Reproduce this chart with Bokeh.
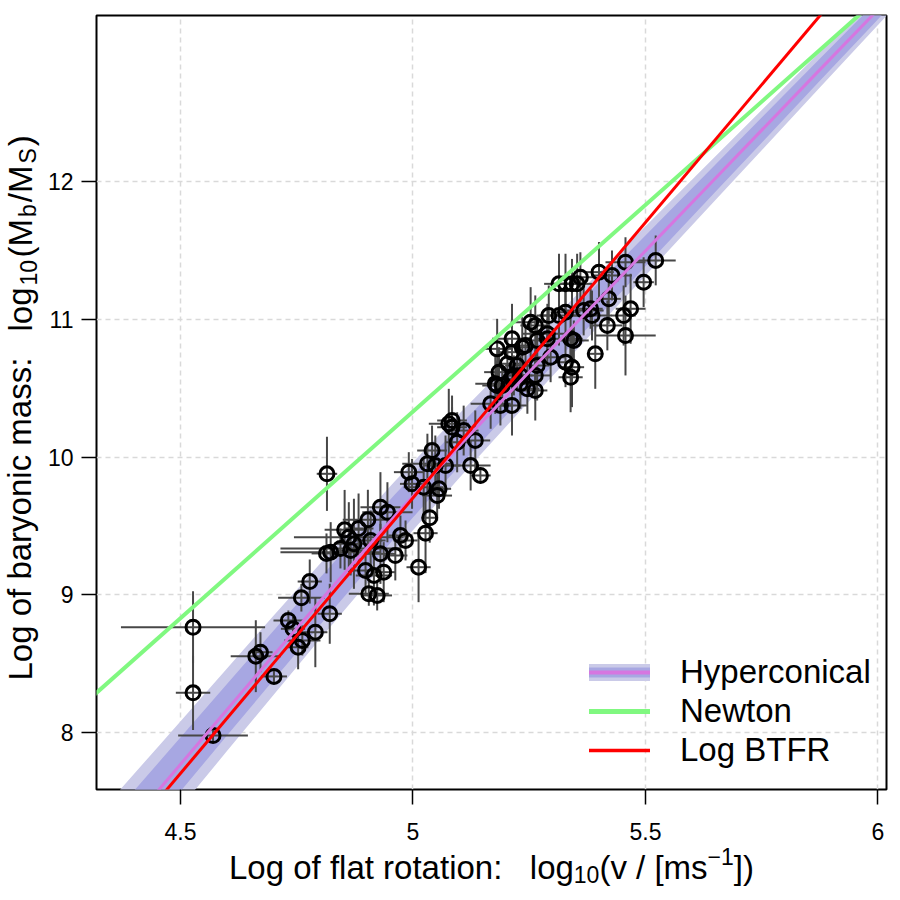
import numpy as np
from bokeh.plotting import figure
from bokeh.models import Range1d, FixedTicker, Legend, LegendItem, ColumnDataSource
from bokeh.core.properties import value
from bokeh.embed import file_html
from bokeh.resources import INLINE

# ---------------- data ----------------
log_v = [4.527, 4.527, 4.570, 4.662, 4.672, 4.701, 4.732, 4.742, 4.753, 4.762,
         4.760, 4.778, 4.790, 4.821, 4.815, 4.823, 4.814, 4.853, 4.862, 4.873,
         4.866, 4.903, 4.909, 4.930, 4.945, 4.930, 4.898, 4.916, 4.937, 4.962,
         4.973, 4.905, 4.923, 4.844, 4.883, 4.991, 4.998, 5.023, 5.041, 5.031,
         5.048, 5.056, 5.036, 5.027, 5.012, 5.145, 5.124, 5.134, 5.109, 5.095,
         5.077, 5.084, 5.070, 5.052, 4.984, 5.167, 5.213, 5.188, 5.181, 5.177,
         5.192, 5.185, 5.181, 5.203, 5.213, 5.213, 5.224, 5.213, 5.231, 5.235,
         5.242, 5.253, 5.263, 5.246, 5.263, 5.263, 5.267, 5.267, 5.289, 5.289,
         5.296, 5.084, 5.231, 5.217, 5.314, 5.328, 5.342, 5.353, 5.328, 5.314,
         5.292, 5.339, 5.346, 5.328, 5.342, 5.339, 5.367, 5.385, 5.392, 5.400,
         5.421, 5.418, 5.428, 5.453, 5.468, 5.457, 5.457, 5.496, 5.522, 5.360, 5.382]
log_m = [8.764, 8.288, 7.978, 8.554, 8.583, 8.407, 8.813, 8.753, 8.619, 8.668,
         8.978, 9.096, 8.728, 8.862, 9.878, 9.309, 9.300, 9.471, 9.418, 9.370,
         9.321, 9.544, 9.394, 9.636, 9.599, 9.297, 9.176, 9.140, 9.164, 9.285,
         9.430, 9.007, 8.995, 9.336, 9.481, 9.890, 9.805, 9.781, 10.047, 9.951,
         9.938, 9.769, 9.559, 9.447, 9.200, 9.866, 9.938, 10.120, 10.192, 10.107,
         10.241, 10.216, 9.938, 9.720, 9.394, 10.386, 10.374, 10.374, 10.519, 10.531,
         10.519, 10.616, 10.785, 10.677, 10.761, 10.858, 10.664, 10.568, 10.531, 10.797,
         10.809, 10.979, 10.955, 10.495, 10.483, 10.592, 10.664, 10.846, 10.894, 10.858,
         10.724, 10.265, 10.592, 10.592, 11.257, 11.257, 11.257, 11.257, 11.051, 11.027,
         11.027, 10.858, 10.846, 10.688, 10.652, 10.579, 11.064, 11.027, 10.749, 11.342,
         11.148, 10.955, 11.318, 11.027, 11.076, 10.882, 11.414, 11.269, 11.427, 11.305, 11.076]
log_v_err = [0.155, 0.037, 0.075, 0.054, 0.026, 0.028, 0.032, 0.026, 0.022, 0.039,
             0.050, 0.026, 0.026, 0.026, 0.022, 0.108, 0.032, 0.043, 0.118, 0.043,
             0.026, 0.054, 0.032, 0.043, 0.054, 0.032, 0.032, 0.039, 0.026, 0.026,
             0.026, 0.043, 0.032, 0.129, 0.032, 0.032, 0.026, 0.043, 0.032, 0.054,
             0.026, 0.026, 0.017, 0.026, 0.026, 0.022, 0.043, 0.032, 0.032, 0.026,
             0.043, 0.032, 0.032, 0.032, 0.026, 0.043, 0.032, 0.026, 0.032, 0.043,
             0.026, 0.032, 0.032, 0.026, 0.032, 0.043, 0.026, 0.032, 0.026, 0.032,
             0.026, 0.043, 0.032, 0.026, 0.026, 0.032, 0.026, 0.032, 0.054, 0.026,
             0.032, 0.032, 0.026, 0.026, 0.032, 0.032, 0.026, 0.032, 0.032, 0.043,
             0.026, 0.026, 0.032, 0.026, 0.026, 0.026, 0.043, 0.043, 0.017, 0.032,
             0.026, 0.032, 0.043, 0.026, 0.032, 0.065, 0.043, 0.022, 0.043, 0.032, 0.026]
log_m_err = [0.261, 0.269, 0.044, 0.261, 0.145, 0.044, 0.073, 0.087, 0.160, 0.109,
             0.100, 0.160, 0.254, 0.218, 0.269, 0.218, 0.145, 0.290, 0.254, 0.327,
             0.181, 0.218, 0.218, 0.254, 0.218, 0.218, 0.181, 0.218, 0.218, 0.181,
             0.145, 0.087, 0.109, 0.145, 0.254, 0.145, 0.181, 0.218, 0.181, 0.218,
             0.218, 0.145, 0.181, 0.290, 0.254, 0.058, 0.181, 0.218, 0.181, 0.218,
             0.254, 0.145, 0.218, 0.181, 0.145, 0.181, 0.218, 0.145, 0.181, 0.218,
             0.145, 0.181, 0.218, 0.181, 0.218, 0.254, 0.181, 0.145, 0.181, 0.218,
             0.145, 0.254, 0.218, 0.181, 0.218, 0.181, 0.254, 0.181, 0.218, 0.145,
             0.181, 0.181, 0.145, 0.145, 0.218, 0.218, 0.181, 0.218, 0.181, 0.218,
             0.218, 0.181, 0.145, 0.181, 0.290, 0.254, 0.181, 0.181, 0.254, 0.218,
             0.181, 0.181, 0.181, 0.218, 0.254, 0.290, 0.181, 0.181, 0.181, 0.181, 0.145]

hyper_x = [4.30, 4.46, 4.60, 4.70, 4.80, 4.96, 5.10, 5.24, 5.38, 5.52, 5.65, 5.75, 5.87, 5.99, 6.03]
hyper_y = [6.977, 7.610, 8.165, 8.560, 8.952, 9.568, 10.082, 10.582, 11.075, 11.567,
           12.022, 12.373, 12.794, 13.213, 13.354]
hyper_inner = [0.213, 0.199, 0.187, 0.179, 0.171, 0.157, 0.145, 0.134, 0.122, 0.110,
               0.099, 0.091, 0.081, 0.071, 0.067]
hyper_outer = [0.340, 0.318, 0.300, 0.287, 0.273, 0.252, 0.233, 0.214, 0.195, 0.176,
               0.159, 0.146, 0.130, 0.114, 0.108]

newton_x = [4.30, 6.05]
newton_y = [8.23, 13.48]
btfr_x = [4.30, 6.05]
btfr_y = [6.903, 13.903]

x_ticks = [4.5, 5.0, 5.5, 6.0]
x_tick_labels = ["4.5", "5", "5.5", "6"]
y_ticks = [8, 9, 10, 11, 12]
y_tick_labels = ["8", "9", "10", "11", "12"]

# ---------------- figure ----------------
FONT = "Liberation Sans"
X0, X1 = 4.3194, 6.0183
Y0, Y1 = 7.5862, 13.2051
FL, FT, FW, FH = 96, 15, 790, 774   # frame position on the canvas (px)

p = figure(width=896, height=896, x_range=Range1d(X0, X1), y_range=Range1d(Y0, Y1),
           output_backend="svg", toolbar_location=None,
           min_border_left=FL, min_border_right=896 - FL - FW, min_border_top=FT,
           min_border_bottom=896 - FT - FH)
p.background_fill_color = "white"
p.border_fill_color = "white"
p.outline_line_color = "black"
p.outline_line_width = 2

for ax, ticks, labs, standoff in ((p.xaxis[0], x_ticks, x_tick_labels, 18),
                                  (p.yaxis[0], y_ticks, y_tick_labels, 8)):
    ax.ticker = FixedTicker(ticks=ticks)
    ax.major_label_overrides = {t: l for t, l in zip(ticks, labs)}
    ax.axis_line_color = None
    ax.major_tick_out = 15
    ax.major_tick_in = 0
    ax.major_tick_line_width = 1.5
    ax.major_tick_line_color = "black"
    ax.minor_tick_line_color = None
    ax.major_label_text_font = FONT
    ax.major_label_text_font_size = "23px"
    ax.major_label_text_color = "black"
    ax.major_label_standoff = standoff
p.yaxis.major_label_orientation = "horizontal"

for g, ticks in ((p.xgrid[0], x_ticks), (p.ygrid[0], y_ticks)):
    g.ticker = FixedTicker(ticks=ticks)
    g.grid_line_color = "#d9d9d9"
    g.grid_line_dash = "5 4"
    g.grid_line_width = 1.5

# band
hx = np.array(hyper_x); hy = np.array(hyper_y)
hi = np.array(hyper_inner); ho = np.array(hyper_outer)
p.varea(x=hx, y1=hy - ho, y2=hy + ho, fill_color="#cacae8")
p.varea(x=hx, y1=hy - hi, y2=hy + hi, fill_color="#a7a7e2")

# error bars and points
v = np.array(log_v); m = np.array(log_m)
ve = np.array(log_v_err); me = np.array(log_m_err)
src = ColumnDataSource(dict(v=v, m=m, vl=v - ve, vh=v + ve, ml=m - me, mh=m + me))
p.segment(x0="vl", y0="m", x1="vh", y1="m", source=src, line_color="#474747", line_width=2)
p.segment(x0="v", y0="ml", x1="v", y1="mh", source=src, line_color="#474747", line_width=2)
p.scatter(x="v", y="m", source=src, marker="circle", size=14, fill_color=None,
          line_color="black", line_width=3)

# model lines
p.line(hx, hy, line_color="#d676e0", line_width=3)
p.line(newton_x, newton_y, line_color="#80f880", line_width=4)
p.line(btfr_x, btfr_y, line_color="#ff0000", line_width=3)

# legend glyph renderers (placed outside the visible ranges)
off_x = [0.0, 0.1]
off_y = [0.0, 0.1]
lh1 = p.line(off_x, off_y, line_color="#cacae8", line_width=17, line_cap="round")
lh2 = p.line(off_x, off_y, line_color="#a7a7e2", line_width=10, line_cap="round")
lh3 = p.line(off_x, off_y, line_color="#d676e0", line_width=4, line_cap="round")
ln = p.line(off_x, off_y, line_color="#80f880", line_width=5, line_cap="round")
lb = p.line(off_x, off_y, line_color="#ff0000", line_width=3.5, line_cap="round")
legend = Legend(items=[LegendItem(label="Hyperconical", renderers=[lh1, lh2, lh3]),
                       LegendItem(label="Newton", renderers=[ln]),
                       LegendItem(label="Log BTFR", renderers=[lb])],
                location=(493, 20), padding=0, margin=0, spacing=1,
                glyph_width=61, glyph_height=30, label_standoff=30,
                label_text_font=FONT, label_text_font_size="33px",
                label_text_color="black",
                background_fill_alpha=0, border_line_color=None)
p.add_layout(legend)

# ---------------- axis titles with sub/superscripts ----------------
def dxp(px):
    return X0 + (px - FL) / FW * (X1 - X0)

def dyp(py):
    return Y1 - (py - FT) / FH * (Y1 - Y0)

A = np.pi / 2
# (text, canvas x, canvas y of the piece's anchor, font size, angle)
title_pieces = [
    ("Log of flat rotation:", 228.5, 866.5, "33px", 0.0),
    ("log", 529.3, 866.5, "33px", 0.0),
    ("10", 573.3, 874.0, "23px", 0.0),
    ("(v / [ms", 598.9, 866.5, "33px", 0.0),
    ("\u22121", 707.1, 856.0, "23px", 0.0),
    ("])", 733.3, 866.5, "33px", 0.0),
    ("Log of baryonic mass:", 19.5, 680, "33px", A),
    ("log", 19.5, 331, "33px", A),
    ("10", 27.5, 285, "23px", A),
    ("(M", 19.5, 257, "33px", A),
    ("b", 27.5, 216.5, "23px", A),
    ("/M", 19.5, 201.7, "33px", A),
    ("S", 27.5, 163, "23px", A),
    (")", 19.5, 145.7, "33px", A),
]
tsrc = ColumnDataSource(dict(
    x=[dxp(t[1]) for t in title_pieces],
    y=[dyp(t[2]) for t in title_pieces],
    text=[t[0] for t in title_pieces],
    size=[t[3] for t in title_pieces],
    angle=[t[4] for t in title_pieces],
))
p.text(x="x", y="y", text="text", angle="angle", source=tsrc, level="overlay",
       text_font=value(FONT), text_font_size="size", text_color="black",
       text_align="left", text_baseline="alphabetic")

open("out.html", "w").write(file_html(p, INLINE))
